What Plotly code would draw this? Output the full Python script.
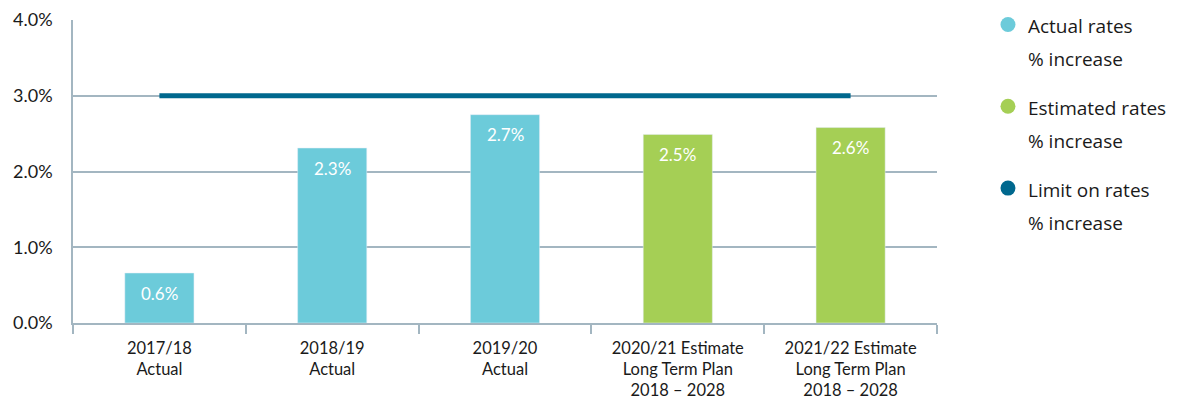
import plotly.graph_objects as go

categories = ["2017/18<br>Actual", "2018/19<br>Actual", "2019/20<br>Actual",
              "2020/21 Estimate<br>Long Term Plan<br>2018 – 2028",
              "2021/22 Estimate<br>Long Term Plan<br>2018 – 2028"]
actual_cats = categories[:3]
actual_vals = [0.66, 2.31, 2.75]
actual_labels = ["0.6%", "2.3%", "2.7%"]
est_cats = categories[3:]
est_vals = [2.49, 2.58]
est_labels = ["2.5%", "2.6%"]
limit_vals = [3.0, 3.0, 3.0, 3.0, 3.0]
legend_names = [("Actual rates", "% increase"), ("Estimated rates", "% increase"), ("Limit on rates", "% increase")]

C_ACT = "#6CCBDA"
C_EST = "#A5CF55"
C_LIM = "#00688E"
GRID = "#A3B6C1"
TXT = "#1a1a1a"

fig = go.Figure()
fig.add_bar(x=actual_cats, y=actual_vals, marker_color=C_ACT, width=0.4, showlegend=False)
fig.add_bar(x=est_cats, y=est_vals, marker_color=C_EST, width=0.4, showlegend=False)
fig.add_scatter(x=categories, y=limit_vals, mode="lines",
                line=dict(color=C_LIM, width=5), showlegend=False)

for cats, vals, labels in [(actual_cats, actual_vals, actual_labels), (est_cats, est_vals, est_labels)]:
    for c, v, t in zip(cats, vals, labels):
        fig.add_annotation(x=c, y=v, text=t, showarrow=False, yanchor="middle", yshift=-20,
                           font=dict(color="white", size=17, family="Lato"))

def lbl(s):
    return f"<span style='font-size:19px'>{s}</span>"

for i, ((n1, n2), col) in enumerate(zip(legend_names, [C_ACT, C_EST, C_LIM])):
    fig.add_scatter(x=[None], y=[None], mode="markers", name=lbl(n1), legendgroup=f"g{i}",
                    marker=dict(color=col, size=15, symbol="circle"))
    fig.add_scatter(x=[None], y=[None], mode="markers", name=lbl(n2), legendgroup=f"g{i}",
                    marker=dict(color="rgba(0,0,0,0)", size=15))

fig.update_layout(
    width=1194, height=400,
    margin=dict(l=65, r=265, t=12, b=84.5, autoexpand=False),
    plot_bgcolor="white", paper_bgcolor="white",
    barmode="overlay",
    font=dict(family="Lato", color=TXT, size=16),
    legend=dict(x=1.059, y=1.056, xanchor="left", yanchor="top",
                font=dict(family="Open Sans", size=23, color=TXT), tracegroupgap=16,
                itemclick=False, itemdoubleclick=False, maxheight=390),
    xaxis=dict(type="category", tickson="boundaries", ticks="outside", ticklen=9,
               tickcolor=GRID, tickwidth=1.5, showline=True, linecolor=GRID, linewidth=1.5,
               showgrid=False, tickfont=dict(size=16.5, family="Lato", color=TXT),
               range=[-0.5, 4.5], automargin=False, ticklabelstandoff=9),
    yaxis=dict(range=[0, 4], dtick=1, tickformat=".1f", ticksuffix="%", showgrid=True,
               gridcolor=GRID, gridwidth=1.5, showline=True, linecolor=GRID, linewidth=1.5,
               zeroline=False, ticks="", ticklabelstandoff=15, automargin=False,
               tickfont=dict(size=18, family="Lato", color=TXT)),
)

fig.write_html("out.html")
